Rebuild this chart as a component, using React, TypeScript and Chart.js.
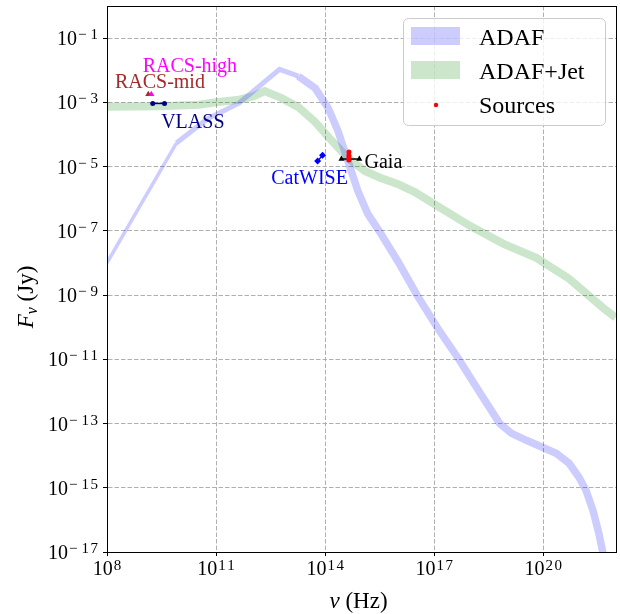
import React, { useEffect, useRef } from "react";
import { Chart, registerables } from "chart.js";

Chart.register(...registerables);

// ---------- data ----------
const adafNu = [1.0e8, 8.11e9, 5.68e10, 4.24e11, 5.56e12, 1.83e13, 5.33e13, 1.21e14, 2.26e14, 4.24e14, 7.94e14, 1.49e15, 3.16e15, 9.77e15, 3.44e16, 1.21e17, 4.8e17, 1.79e18, 6.3e18, 1.34e19, 3.43e19, 9.38e19, 2.26e20, 5.11e20, 9.57e20, 1.49e21, 2.31e21, 3.36e21, 4.32e21, 5.55e21];
const adafFlux = [1.01e-8, 5.41e-5, 3.01e-4, 9.44e-4, 1.07e-2, 6.52e-3, 2.76e-3, 6.61e-4, 1.28e-4, 1.49e-5, 1.75e-6, 3.37e-7, 9.31e-8, 1.17e-8, 9.57e-10, 9.72e-11, 9.86e-12, 9.31e-13, 1.01e-13, 4.97e-14, 3.01e-14, 1.82e-14, 1.19e-14, 5.81e-15, 2.13e-15, 8.41e-16, 2.01e-16, 3.89e-17, 1.0e-17, 1.35e-18];

const jetNu = [1.0e8, 2.79e9, 3.44e10, 9.98e10, 4.24e11, 1.09e12, 2.17e12, 6.31e12, 1.83e13, 5.33e13, 1.46e14, 4.24e14, 1.23e15, 3.36e15, 9.77e15, 2.84e16, 1.21e17, 9.57e17, 8.09e18, 6.43e19, 5.11e20, 4.32e21, 9.77e21];
const jetFlux = [7.34e-4, 7.62e-4, 8.49e-4, 1.01e-3, 1.21e-3, 1.56e-3, 2.23e-3, 1.35e-3, 7.1e-4, 2.43e-4, 6.7e-5, 1.85e-5, 7.29e-6, 4.43e-6, 2.88e-6, 1.63e-6, 5.97e-7, 1.43e-7, 3.94e-8, 1.45e-8, 3.23e-9, 4.06e-10, 1.99e-10];

const racsMidNu = [1.3675e9];
const racsMidFlux = [1.8e-3];
const racsHighNu = [1.6555e9];
const racsHighFlux = [1.8e-3];
const vlassNu = [1.81e9, 3.82e9];
const vlassFlux = [9.25e-4, 9.25e-4];
const catwiseNu = [6.2e13, 8.5e13];
const catwiseFlux = [1.48e-5, 2.24e-5];
const gaiaNu = [2.81e14, 8.71e14];
const gaiaFlux = [1.72e-5, 1.72e-5];
const sourceNu = [4.51e14, 4.51e14, 4.51e14, 4.51e14];
const sourceFlux = [2.84e-5, 2.21e-5, 1.85e-5, 1.6e-5];

const xTicks = [1e8, 1e11, 1e14, 1e17, 1e20];
const yTicks = [1e-17, 1e-15, 1e-13, 1e-11, 1e-9, 1e-7, 1e-5, 1e-3, 1e-1];

const labelTexts = ["RACS-high", "RACS-mid", "VLASS", "CatWISE", "Gaia"];
const labelNu = [9.55e8, 1.65e8, 3.09e9, 3.3e12, 1.21e15];
const labelFlux = [8.97e-3, 2.82e-3, 1.55e-4, 2.82e-6, 8.85e-6];
const labelColors = ["#ff00ff", "#a52a2a", "#000080", "#0000ff", "#000000"];

const legendLabels = ["ADAF", "ADAF+Jet", "Sources"];

const SERIF = '"Liberation Serif", "Times New Roman", serif';

const pts = (xs: number[], ys: number[]) => xs.map((x, i) => ({ x, y: ys[i] }));

// draws "10" with a superscript exponent, returns nothing
function drawPow(ctx: CanvasRenderingContext2D, exp: number, x: number, y: number, align: "center" | "right", raise: number) {
  const baseFont = `20px ${SERIF}`;
  const expFont = `15px ${SERIF}`;
  const spacing = 1.5;
  const chars: string[] = [];
  if (exp < 0) chars.push("\u2212");
  String(Math.abs(exp)).split("").forEach((c) => chars.push(c));
  ctx.font = baseFont;
  const wb = ctx.measureText("10").width + 1;
  ctx.font = expFont;
  const widths = chars.map((c) => ctx.measureText(c).width + spacing + (c === "\u2212" ? 2.5 : 0));
  const we = widths.reduce((s, w) => s + w, 0) - spacing;
  const total = wb + we;
  const left = align === "center" ? x - total / 2 : x - total;
  ctx.textAlign = "left";
  ctx.textBaseline = "alphabetic";
  ctx.font = baseFont;
  ctx.fillText("10", left, y);
  ctx.font = expFont;
  let cx = left + wb;
  chars.forEach((c, i) => {
    ctx.fillText(c, cx, y - raise);
    cx += widths[i];
  });
}

const overlayPlugin = {
  id: "overlay",
  afterDatasetsDraw(chart: any) {
    const { ctx, chartArea: a, scales } = chart;
    const xs = scales.x;
    const ys = scales.y;
    ctx.save();
    // frame
    ctx.strokeStyle = "#000";
    ctx.lineWidth = 1;
    ctx.setLineDash([]);
    ctx.strokeRect(Math.round(a.left) + 0.5, Math.round(a.top) + 0.5, Math.round(a.right - a.left), Math.round(a.bottom - a.top));

    // annotations
    ctx.font = `20px ${SERIF}`;
    ctx.textAlign = "left";
    ctx.textBaseline = "alphabetic";
    labelTexts.forEach((t, i) => {
      ctx.fillStyle = labelColors[i];
      ctx.fillText(t, xs.getPixelForValue(labelNu[i]), ys.getPixelForValue(labelFlux[i]));
    });

    // legend
    const bw = 202, bh = 107;
    const bx = a.right - 11 - bw;
    const by = a.top + 12;
    ctx.beginPath();
    ctx.roundRect(bx + 0.5, by + 0.5, bw, bh, 5);
    ctx.fillStyle = "rgba(255,255,255,0.8)";
    ctx.fill();
    ctx.strokeStyle = "#cccccc";
    ctx.lineWidth = 1;
    ctx.stroke();
    const ds = chart.data.datasets;
    const find = (l: string) => ds.find((d: any) => d.label === l);
    ctx.font = `24px ${SERIF}`;
    legendLabels.forEach((l, i) => {
      const d = find(l);
      const rowTop = by + 9 + i * 34;
      if (i < 2) {
        ctx.fillStyle = d.borderColor;
        ctx.fillRect(bx + 8, rowTop, 49, 18);
      } else {
        ctx.fillStyle = d.pointBackgroundColor;
        ctx.beginPath();
        ctx.arc(bx + 33, rowTop + 10, 2.2, 0, Math.PI * 2);
        ctx.fill();
      }
      ctx.fillStyle = "#000";
      ctx.fillText(l, bx + 76, rowTop + 18);
    });

    // tick labels
    ctx.fillStyle = "#000";
    xTicks.forEach((v) => {
      drawPow(ctx, Math.round(Math.log10(v)), xs.getPixelForValue(v), a.bottom + 23, "center", 5);
    });
    yTicks.forEach((v) => {
      drawPow(ctx, Math.round(Math.log10(v)), a.left - 9, ys.getPixelForValue(v) + 7, "right", 6);
    });

    // axis titles
    const cx = (a.left + a.right) / 2 - 3;
    ctx.font = `italic 23px ${SERIF}`;
    const wNu = ctx.measureText("\u03bd").width;
    ctx.font = `23px ${SERIF}`;
    const wHz = ctx.measureText(" (Hz)").width;
    const sx = cx - (wNu + wHz) / 2;
    ctx.font = `italic 23px ${SERIF}`;
    ctx.fillText("\u03bd", sx, 608);
    ctx.font = `23px ${SERIF}`;
    ctx.fillText(" (Hz)", sx + wNu, 608);

    const cy = 297;
    ctx.save();
    ctx.translate(33, cy);
    ctx.rotate(-Math.PI / 2);
    ctx.font = `italic 23px ${SERIF}`;
    const wF = ctx.measureText("F").width;
    ctx.font = `italic 16px ${SERIF}`;
    const wSub = ctx.measureText("\u03bd").width;
    ctx.font = `23px ${SERIF}`;
    const wJy = ctx.measureText(" (Jy)").width;
    const tw = wF + wSub + wJy;
    const tx = -tw / 2;
    ctx.font = `italic 23px ${SERIF}`;
    ctx.fillText("F", tx, 0);
    ctx.font = `italic 16px ${SERIF}`;
    ctx.fillText("\u03bd", tx + wF, 4);
    ctx.font = `23px ${SERIF}`;
    ctx.fillText(" (Jy)", tx + wF + wSub, 0);
    ctx.restore();

    ctx.restore();
  },
};

export default function App() {
  const ref = useRef<HTMLCanvasElement | null>(null);
  useEffect(() => {
    document.body.style.margin = "0";
    const canvas = ref.current;
    if (!canvas) return;
    const gridOpts = {
      color: "#b0b0b0",
      lineWidth: 1,
      tickColor: "#000",
      tickLength: 4,
      tickWidth: 1,
      tickBorderDash: [],
      drawTicks: true,
    };
    const borderOpts = { display: true, color: "#000", width: 1, dash: [4.5, 2] };
    const chart = new Chart(canvas, {
      type: "line",
      data: {
        datasets: [
          {
            label: "ADAF+Jet",
            data: pts(jetNu, jetFlux),
            borderColor: "rgba(0,128,0,0.2)",
            backgroundColor: "rgba(0,128,0,0.2)",
            borderWidth: 8,
            pointRadius: 0,
            tension: 0,
            fill: false,
            clip: 0,
            order: 10,
          },
          {
            label: "ADAF",
            data: pts(adafNu, adafFlux),
            borderColor: "rgba(0,0,255,0.2)",
            backgroundColor: "rgba(0,0,255,0.2)",
            borderWidth: 7.5,
            pointRadius: 0,
            tension: 0,
            fill: false,
            clip: 0,
            order: 9,
            segment: {
              borderWidth: (c: any) => (c.p0.parsed.x < 8e9 ? 3.5 : c.p0.parsed.x < 1.5e13 ? 5 : 7.5),
            },
          },
          {
            label: "Gaia",
            data: pts(gaiaNu, gaiaFlux),
            borderColor: "#000",
            backgroundColor: "#000",
            pointBackgroundColor: "#000",
            pointBorderColor: "#000",
            borderWidth: 1.5,
            pointStyle: "triangle",
            pointRadius: 3.5,
            pointBorderWidth: 0,
            order: 4,
          },
          {
            label: "CatWISE",
            data: pts(catwiseNu, catwiseFlux),
            borderColor: "#0000ff",
            pointBackgroundColor: "#0000ff",
            pointBorderColor: "#0000ff",
            borderWidth: 1.5,
            pointStyle: "rectRot",
            pointRadius: 3.5,
            pointBorderWidth: 0,
            order: 4,
          },
          {
            label: "VLASS",
            data: pts(vlassNu, vlassFlux),
            borderColor: "#000080",
            pointBackgroundColor: "#000080",
            pointBorderColor: "#000080",
            borderWidth: 1.5,
            pointRadius: 2.5,
            pointBorderWidth: 0,
            order: 4,
          },
          {
            label: "RACS-mid",
            data: pts(racsMidNu, racsMidFlux),
            showLine: false,
            pointBackgroundColor: "#a52a2a",
            pointBorderColor: "#a52a2a",
            pointStyle: "triangle",
            pointRadius: 3.5,
            pointBorderWidth: 0,
            order: 3,
          },
          {
            label: "RACS-high",
            data: pts(racsHighNu, racsHighFlux),
            showLine: false,
            pointBackgroundColor: "#ff00ff",
            pointBorderColor: "#ff00ff",
            pointStyle: "triangle",
            pointRadius: 3.5,
            pointBorderWidth: 0,
            order: 2,
          },
          {
            label: "Sources",
            data: pts(sourceNu, sourceFlux),
            borderColor: "#ff0000",
            pointBackgroundColor: "#ff0000",
            pointBorderColor: "#ff0000",
            borderWidth: 3,
            pointRadius: 2.5,
            pointBorderWidth: 0,
            order: 1,
          },
        ],
      },
      options: {
        animation: false,
        responsive: false,
        devicePixelRatio: 1,
        events: [],
        layout: { padding: { top: 6, right: 1, left: 0, bottom: 0 } },
        plugins: { legend: { display: false }, tooltip: { enabled: false }, title: { display: false } },
        scales: {
          x: {
            type: "logarithmic",
            min: 1e8,
            max: 1e22,
            ticks: { display: false },
            grid: gridOpts,
            border: borderOpts,
            afterBuildTicks: (s: any) => {
              s.ticks = xTicks.map((v) => ({ value: v }));
            },
            afterFit: (s: any) => {
              s.height = 62;
            },
          },
          y: {
            type: "logarithmic",
            min: 1e-17,
            max: 1,
            ticks: { display: false },
            grid: gridOpts,
            border: borderOpts,
            afterBuildTicks: (s: any) => {
              s.ticks = yTicks.map((v) => ({ value: v }));
            },
            afterFit: (s: any) => {
              s.width = 107;
            },
          },
        },
      } as any,
      plugins: [overlayPlugin],
    });
    return () => chart.destroy();
  }, []);
  return (
    <div style={{ width: 620, height: 614 }}>
      <canvas ref={ref} width={620} height={614} style={{ display: "block" }} />
    </div>
  );
}
